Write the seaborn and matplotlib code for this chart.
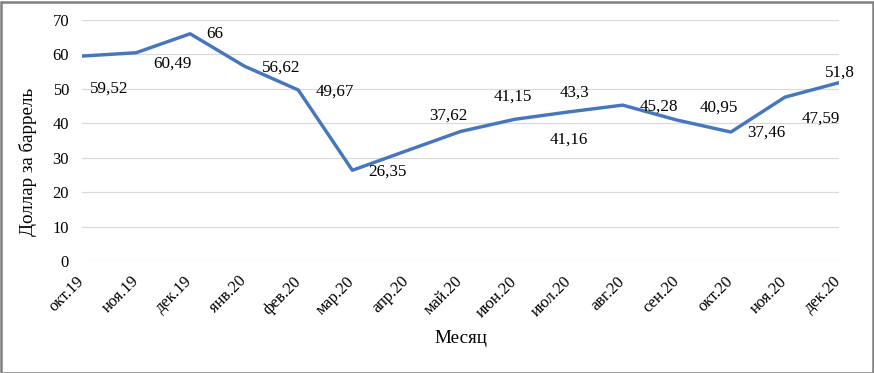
import matplotlib
matplotlib.use("Agg")
import matplotlib.pyplot as plt
import seaborn as sns
import pandas as pd
from matplotlib.patches import Rectangle

months = ["окт.19", "ноя.19", "дек.19", "янв.20", "фев.20", "мар.20", "апр.20",
          "май.20", "июн.20", "июл.20", "авг.20", "сен.20", "окт.20", "ноя.20", "дек.20"]
prices = [59.52, 60.49, 66.0, 56.62, 49.67, 26.35, 32.0,
          37.62, 41.15, 43.3, 45.28, 40.95, 37.46, 47.59, 51.8]

# data labels as shown on the chart (text, month they sit next to)
label_texts = ["59,52", "60,49", "66", "56,62", "49,67", "26,35", "37,62",
               "41,15", "43,3", "41,16", "45,28", "40,95", "37,46", "47,59", "51,8"]
label_months = ["окт.19", "ноя.19", "дек.19", "янв.20", "фев.20", "мар.20", "май.20",
                "июн.20", "июл.20", "июл.20", "авг.20", "сен.20", "окт.20", "ноя.20", "дек.20"]
# offsets in points (== pixels at dpi 72)
label_offsets = [(27, -33), (36, -11), (25, 0), (37, -2), (37, -2), (35, -1), (-12, 16),
                 (-2, 23), (6, 19), (0, -28), (36, -2), (42, 12), (35, -1), (36, -21), (1, 10)]

df = pd.DataFrame({"Месяц": months, "Цена": prices})

sns.set_theme(style="white")
plt.rcParams["font.family"] = ["Liberation Serif", "DejaVu Serif"]

W, H, DPI = 874, 373, 72
fig = plt.figure(figsize=(W / DPI, H / DPI), dpi=DPI)
ax = fig.add_axes([82 / W, 1 - 261 / H, (839 - 82) / W, (261 - 20) / H])

sns.lineplot(data=df, x="Месяц", y="Цена", sort=False, ax=ax,
             color="#4677BE", linewidth=3.4, solid_capstyle="round", solid_joinstyle="round")

ax.set_xlim(0, len(months) - 1)
ax.set_ylim(0, 70)
ax.set_yticks(range(0, 71, 10))
ax.grid(axis="y", color="#D9D9D9", linewidth=1.2)
ax.grid(axis="x", visible=False)
for s in ax.spines.values():
    s.set_visible(False)
ax.set_axisbelow(True)

ax.tick_params(axis="y", length=0, pad=13, labelsize=16.5, colors="#000000")
ax.tick_params(axis="x", length=0, pad=18, labelsize=16.5, colors="#000000")
for lbl in ax.get_xticklabels():
    lbl.set_rotation(45)
    lbl.set_ha("right")
    lbl.set_va("center")
    lbl.set_rotation_mode("anchor")

ax.set_xlabel("Месяц", fontsize=19, color="#000000")
ax.set_ylabel("Доллар за баррель", fontsize=19, color="#000000")
ax.yaxis.set_label_coords(-0.059, 0.41)
ax.xaxis.set_label_coords(0.5, -0.285)

idx = {m: i for i, m in enumerate(months)}
for txt, m, (dx, dy) in zip(label_texts, label_months, label_offsets):
    i = idx[m]
    ax.annotate(txt, xy=(i, prices[i]), xytext=(dx, dy), textcoords="offset points",
                ha="center", va="center", fontsize=17, color="#000000",
                annotation_clip=False)

fig.patches.append(Rectangle((0.5 / W, 0.5 / H), 1 - 2 / W, 1 - 2 / H,
                             transform=fig.transFigure, fill=False,
                             edgecolor="#7F7F7F", linewidth=2.5))

fig.savefig("out.png", dpi=DPI, facecolor="white")
